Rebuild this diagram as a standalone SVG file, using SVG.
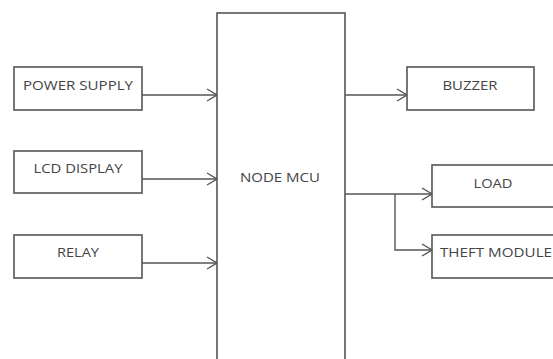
<svg xmlns="http://www.w3.org/2000/svg" width="553" height="359" viewBox="0 0 553 359">
<defs>
<style>
.box{fill:#fff;stroke:#555;stroke-width:1.6}
.lbl{font-family:"Open Sans","Liberation Sans",sans-serif;font-size:12px;fill:#444;text-anchor:middle;dominant-baseline:central}
.con{fill:none;stroke:#555;stroke-width:1.4}
</style>
<marker id="arr" markerWidth="12" markerHeight="14" refX="11" refY="7" orient="auto" markerUnits="userSpaceOnUse">
<path d="M1,1 L11,7 L1,13" fill="none" stroke="#555" stroke-width="1.4"/>
</marker>
</defs>
<rect width="553" height="359" fill="#fff"/>
<g id="connectors">
<line class="con" x1="142" y1="95" x2="217" y2="95" marker-end="url(#arr)"/>
<line class="con" x1="142" y1="179" x2="217" y2="179" marker-end="url(#arr)"/>
<line class="con" x1="142" y1="263" x2="217" y2="263" marker-end="url(#arr)"/>
<line class="con" x1="345" y1="95" x2="407" y2="95" marker-end="url(#arr)"/>
<line class="con" x1="345" y1="194" x2="432" y2="194" marker-end="url(#arr)"/>
<polyline class="con" points="395,194 395,250 432,250" marker-end="url(#arr)"/>
</g>
<g id="node-mcu">
<rect class="box" x="217" y="13" width="128" height="360"/>
<text class="lbl" x="280" y="177" textLength="80" lengthAdjust="spacingAndGlyphs">NODE MCU</text>
</g>
<g id="power-supply">
<rect class="box" x="14" y="67" width="128" height="43"/>
<text class="lbl" x="78" y="85" textLength="110" lengthAdjust="spacingAndGlyphs">POWER SUPPLY</text>
</g>
<g id="lcd-display">
<rect class="box" x="14" y="151" width="128" height="42"/>
<text class="lbl" x="78" y="168" textLength="89" lengthAdjust="spacingAndGlyphs">LCD DISPLAY</text>
</g>
<g id="relay">
<rect class="box" x="14" y="235" width="128" height="43"/>
<text class="lbl" x="78" y="252" textLength="42" lengthAdjust="spacingAndGlyphs">RELAY</text>
</g>
<g id="buzzer">
<rect class="box" x="407" y="67" width="127" height="43"/>
<text class="lbl" x="470" y="85" textLength="55" lengthAdjust="spacingAndGlyphs">BUZZER</text>
</g>
<g id="load">
<rect class="box" x="432" y="165" width="130" height="42"/>
<text class="lbl" x="493" y="183" textLength="39" lengthAdjust="spacingAndGlyphs">LOAD</text>
</g>
<g id="theft-module">
<rect class="box" x="432" y="235" width="130" height="43"/>
<text class="lbl" x="496" y="252" textLength="112" lengthAdjust="spacingAndGlyphs">THEFT MODULE</text>
</g>
</svg>
